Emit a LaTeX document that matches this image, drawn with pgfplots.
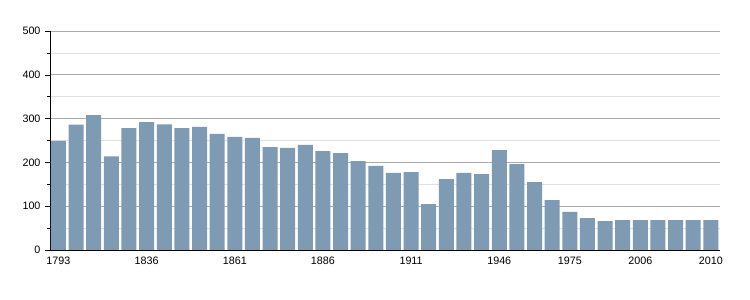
\documentclass[border=0pt]{standalone}
\usepackage{pgfplots}
\pgfplotsset{compat=1.18}
\usepackage{fontspec}
\setmainfont{Liberation Sans}
\definecolor{barc}{RGB}{127,154,179}
\definecolor{majg}{RGB}{170,170,170}
\definecolor{ming}{RGB}{224,224,224}
\begin{document}
\begin{tikzpicture}
\useasboundingbox (0,0) rectangle (750bp,300bp);
\begin{axis}[
  at={(50bp,50bp)}, anchor=south west,
  scale only axis, width=670bp, height=219bp,
  xmin=-0.48, xmax=37.52, ymin=0, ymax=500,
  axis x line*=bottom, axis y line*=left,
  axis line style={-, black, line width=0.8bp},
  xtick={0,5,10,15,20,25,29,33,37},
  xticklabels={1793,1836,1861,1886,1911,1946,1975,2006,2010},
  x tick style={draw=none},
  ytick={0,100,...,500},
  minor ytick={50,150,...,450},
  tick align=outside,
  major tick length=5bp, minor tick length=3bp,
  y tick style={black, line width=0.6bp},
  ymajorgrids, yminorgrids,
  major grid style={majg, line width=0.8bp},
  minor grid style={ming, line width=0.8bp},
  tick label style={font=\fontsize{10.8}{12}\selectfont},
  /pgf/number format/assume math mode=true,
  xticklabel style={yshift=2bp},
  yticklabel style={xshift=-1bp},
  axis on top=false,
]
\addplot[ybar, bar width=15bp, fill=barc, draw=none] coordinates {
(0,249) (1,286) (2,308) (3,214) (4,278) (5,292) (6,287) (7,278) (8,281) (9,265)
(10,258) (11,256) (12,235) (13,233) (14,240) (15,226) (16,221) (17,203) (18,192) (19,176)
(20,178) (21,105) (22,162) (23,176) (24,173) (25,228) (26,196) (27,155) (28,114) (29,87)
(30,73) (31,66) (32,68) (33,68) (34,68) (35,68) (36,68) (37,68)
};
\end{axis}
\end{tikzpicture}
\end{document}
